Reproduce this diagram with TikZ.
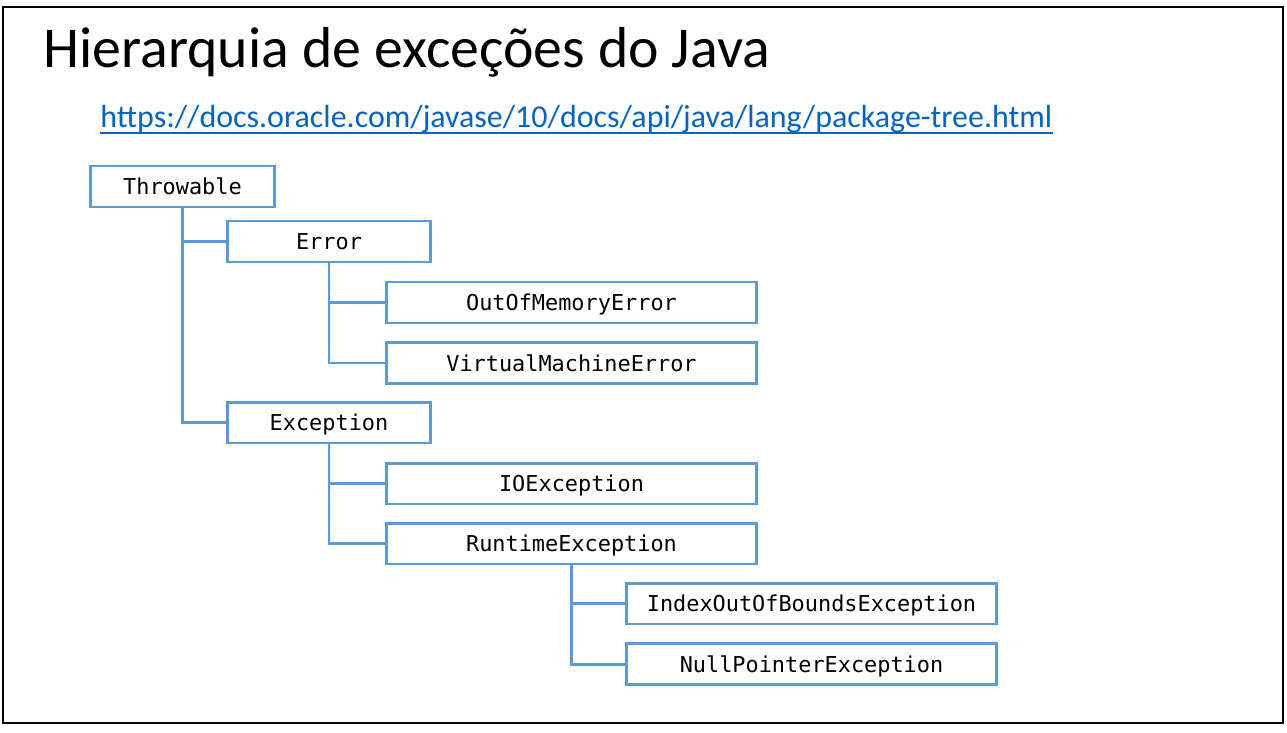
\documentclass[tikz,border=0pt]{standalone}
\usepackage{fontspec}
\setmainfont{Carlito}
\newfontfamily\jcode{DejaVu Sans Mono}
\definecolor{boxblue}{HTML}{5B9BD5}
\definecolor{linkblue}{HTML}{0563C1}
\begin{document}
\begin{tikzpicture}[
    x=0.02cm, y=-0.02cm,
    cls/.style={draw=boxblue,line width=1.7pt,minimum height=0.82cm,inner sep=0pt,
                text height=9.6pt,text depth=0pt,
                font=\jcode\fontsize{12.45}{14}\selectfont},
    rootbox/.style={cls,minimum width=3.7cm},
    midbox/.style={cls,minimum width=4.08cm},
    widebox/.style={cls,minimum width=7.42cm},
    link/.style={draw=boxblue,line width=1.7pt}
]
\useasboundingbox (0,0) rectangle (1287,733);
\draw[line width=1.4pt] (3,7) rectangle (1283,723);

\node[anchor=base west,inner sep=0pt,font=\fontsize{32.9}{38}\selectfont] (title) at (43,68) {Hierarquia de exceções do Java};
\node[anchor=base west,inner sep=0pt,text=linkblue,font=\fontsize{18.2}{22}\selectfont] (url) at (100,128)
    {https://docs.oracle.com/javase/10/docs/api/java/lang/package-tree.html};
\draw[linkblue,line width=1.1pt] ([yshift=-2.8pt]url.base west) -- ([yshift=-2.8pt]url.base east);

\node[rootbox] (throwable) at (182.5,186.5) {Throwable};
\node[midbox]  (error)     at (329,241.5)   {Error};
\node[widebox] (oom)       at (571.5,302.5) {OutOfMemoryError};
\node[widebox] (vme)       at (571.5,363)   {VirtualMachineError};
\node[midbox]  (exception) at (329,422.5)   {Exception};
\node[widebox] (ioe)       at (571.5,483.5) {IOException};
\node[widebox] (rte)       at (571.5,543.5) {RuntimeException};
\node[widebox] (ioobe)     at (811.5,603.5) {IndexOutOfBoundsException};
\node[widebox] (npe)       at (811.5,664)   {NullPointerException};

\draw[link] (throwable.south) |- (error.west);
\draw[link] (throwable.south) |- (exception.west);
\draw[link] (error.south) |- (oom.west);
\draw[link] (error.south) |- (vme.west);
\draw[link] (exception.south) |- (ioe.west);
\draw[link] (exception.south) |- (rte.west);
\draw[link] (rte.south) |- (ioobe.west);
\draw[link] (rte.south) |- (npe.west);
\end{tikzpicture}
\end{document}
